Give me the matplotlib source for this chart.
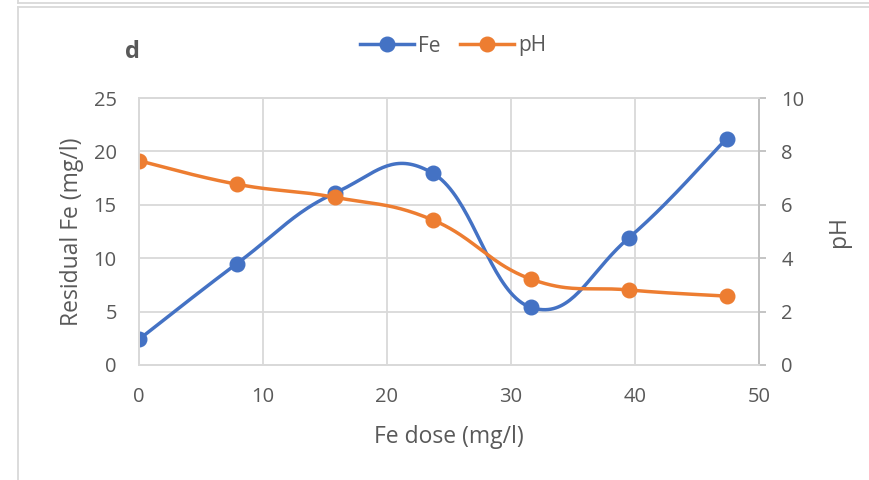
import numpy as np
import matplotlib
matplotlib.use("Agg")
import matplotlib.pyplot as plt
from matplotlib.lines import Line2D

plt.rcParams['font.family'] = ['Open Sans', 'DejaVu Sans']

# ---- data -----------------------------------------------------------------
fe_dose = [0, 7.9, 15.8, 23.7, 31.6, 39.5, 47.4]
fe_resid = [2.4, 9.5, 16.1, 17.95, 5.4, 11.9, 21.2]
ph_vals = [7.65, 6.77, 6.28, 5.43, 3.22, 2.81, 2.58]

BLUE, ORANGE = '#4472C4', '#ED7D31'
GRID, TXT = '#D9D9D9', '#595959'


def smooth(ax, xs, ys, f=0.21, n=40):
    # Excel-style smoothed line: cubic Bezier through the points, built in
    # display space so the curve shape does not depend on axis scaling
    pts = ax.transData.transform(np.column_stack([xs, ys]))
    out = [pts[0]]
    m = len(pts)
    for i in range(m - 1):
        p0 = pts[max(i - 1, 0)]
        p1, p2 = pts[i], pts[i + 1]
        p3 = pts[min(i + 2, m - 1)]
        c1 = p1 + (p2 - p0) * f
        c2 = p2 - (p3 - p1) * f
        t = np.linspace(0, 1, n)[1:, None]
        seg = ((1 - t) ** 3 * p1 + 3 * (1 - t) ** 2 * t * c1
               + 3 * (1 - t) * t ** 2 * c2 + t ** 3 * p2)
        out.extend(seg)
    out = ax.transData.inverted().transform(np.array(out))
    return out[:, 0], out[:, 1]


fig = plt.figure(figsize=(8.7, 4.8), dpi=100)
W, H = 870, 480

# frame lines of the surrounding chart boxes
for xs, ys in [([18, W], [3, 3]), ([18, 18], [0, 3]),
               ([18, W], [7, 7]), ([18, 18], [7, H])]:
    fig.add_artist(Line2D([x / W for x in xs], [1 - y / H for y in ys],
                          color=GRID, lw=1.3, transform=fig.transFigure))

ax = fig.add_axes([139 / W, 1 - 365 / H, 620 / W, 267 / H])
ax2 = ax.twinx()

ax.set_xlim(0, 50)
ax.set_ylim(0, 25)
ax2.set_ylim(0, 10)
ax.set_xticks(range(0, 51, 10))
ax.set_yticks(range(0, 26, 5))
ax2.set_yticks(range(0, 11, 2))

ax.grid(True, color=GRID, lw=1.3)
ax.set_axisbelow(True)
for a in (ax, ax2):
    for s in a.spines.values():
        s.set_color(GRID)
        s.set_linewidth(1.3)
ax2.spines['right'].set_color('#BFBFBF')

ax.tick_params(axis='both', length=0, labelsize=14.5, labelcolor=TXT)
ax.tick_params(axis='y', pad=16)
ax.tick_params(axis='x', pad=16)
ax2.tick_params(axis='y', length=5, width=1.3, color='#BFBFBF',
                labelsize=14.5, labelcolor=TXT, pad=11)

sx, sy = smooth(ax, fe_dose, fe_resid)
ax.plot(sx, sy, color=BLUE, lw=2.5, solid_capstyle='round')
ax.plot(fe_dose, fe_resid, 'o', color=BLUE, ms=10.5)

px, py = smooth(ax2, fe_dose, ph_vals)
ax2.plot(px, py, color=ORANGE, lw=2.5, solid_capstyle='round')
ax2.plot(fe_dose, ph_vals, 'o', color=ORANGE, ms=10.5)

ax.set_xlabel('Fe dose (mg/l)', fontsize=16.5, color=TXT, labelpad=13)
ax.set_ylabel('Residual Fe (mg/l)', fontsize=16.5, color=TXT, labelpad=7)
ax2.set_ylabel('pH', fontsize=16.5, color=TXT, labelpad=16)

fig.text(125 / W, 1 - 52 / H, 'd', fontsize=17, fontweight='bold',
         color=TXT, va='center', ha='left')

handles = [Line2D([], [], color=BLUE, lw=2.5, marker='o', ms=10.5),
           Line2D([], [], color=ORANGE, lw=2.5, marker='o', ms=10.5)]
fig.legend(handles, ['Fe', 'pH'], loc='center', ncol=2,
           bbox_to_anchor=(453 / W, 1 - 46 / H), frameon=False,
           fontsize=15, labelcolor=TXT, handlelength=2.6,
           handletextpad=0.2, columnspacing=0.9)

fig.savefig('out.png', dpi=100)
